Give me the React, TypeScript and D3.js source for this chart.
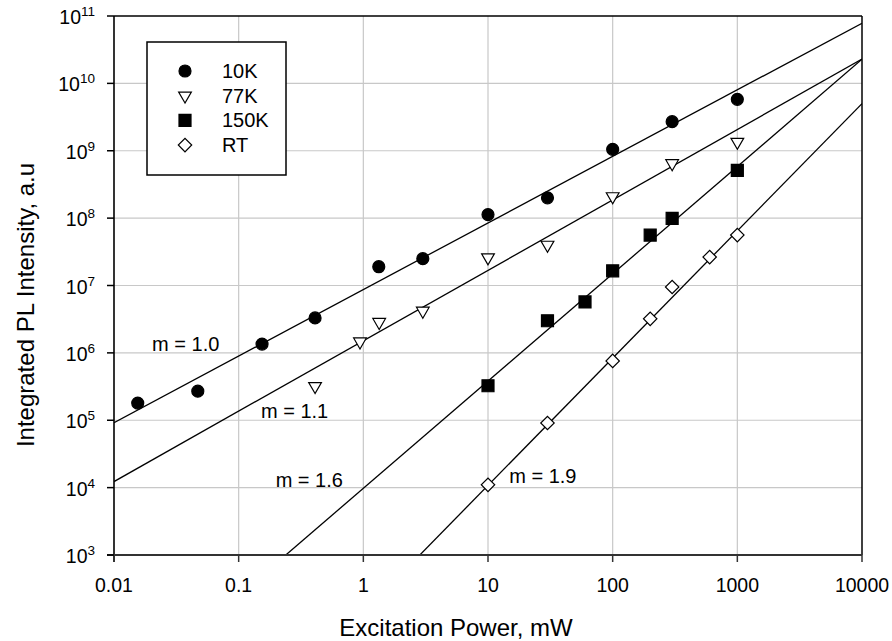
import * as d3 from "d3";

const W = 892;
const H = 641;
const plot = { left: 114, right: 862, top: 16, bottom: 555 };
const font = "'Liberation Sans', Arial, sans-serif";

const seriesNames = ["10K", "77K", "150K", "RT"];
const power10K = [0.0155, 0.047, 0.154, 0.41, 1.33, 3, 10, 30, 100, 300, 1000];
const pl10K = [1.8e5, 2.7e5, 1.35e6, 3.3e6, 1.9e7, 2.5e7, 1.13e8, 2.0e8, 1.05e9, 2.7e9, 5.8e9];
const power77K = [0.41, 0.94, 1.34, 3, 10, 30, 100, 300, 1000];
const pl77K = [3.2e5, 1.47e6, 2.86e6, 4.2e6, 2.6e7, 4.0e7, 2.1e8, 6.5e8, 1.35e9];
const power150K = [10, 30, 60, 100, 200, 300, 1000];
const pl150K = [3.25e5, 3.0e6, 5.7e6, 1.65e7, 5.6e7, 9.9e7, 5.1e8];
const powerRT = [10, 30, 100, 200, 300, 600, 1000];
const plRT = [1.1e4, 9.1e4, 7.6e5, 3.2e6, 9.5e6, 2.64e7, 5.6e7];

// power-law fits: log10(I) = fitLogAt1 + slope * log10(P)
const fitSlopes = [0.988, 1.045, 1.592, 1.889];
const fitLogAt1 = [6.94, 6.18, 3.99, 2.144];
const fitLabels = ["m = 1.0", "m = 1.1", "m = 1.6", "m = 1.9"];
const fitLabelP = [0.0202, 0.151, 0.198, 14.8];
const fitLabelI = [1.07e6, 1.07e5, 1.02e4, 1.16e4];

const xTicks = [0.01, 0.1, 1, 10, 100, 1000, 10000];
const xTickLabels = ["0.01", "0.1", "1", "10", "100", "1000", "10000"];
const yExponents = [3, 4, 5, 6, 7, 8, 9, 10, 11];

const x = d3.scaleLog().domain([0.01, 10000]).range([plot.left, plot.right]);
const y = d3.scaleLog().domain([1e3, 1e11]).range([plot.bottom, plot.top]);

const series = [
  { p: power10K, v: pl10K },
  { p: power77K, v: pl77K },
  { p: power150K, v: pl150K },
  { p: powerRT, v: plRT },
];

const sym = [
  d3.symbol().type(d3.symbolCircle).size(113)(),
  d3.symbol().type(d3.symbolTriangle).size(70)(),
  d3.symbol().type(d3.symbolSquare).size(144)(),
  d3.symbol().type(d3.symbolSquare).size(90)(),
];
const symFill = ["black", "white", "black", "white"];
const symRot = [0, 180, 0, 45];

function Marker({ i, cx, cy }: { i: number; cx: number; cy: number }) {
  return (
    <path
      d={sym[i] as string}
      fill={symFill[i]}
      stroke="black"
      strokeWidth={1.2}
      transform={`translate(${cx},${cy}) rotate(${symRot[i]})`}
    />
  );
}

function fitPath(i: number) {
  return d3
    .line<number>()
    .x((p) => x(p))
    .y((p) => y(10 ** (fitLogAt1[i] + fitSlopes[i] * Math.log10(p))))(x.domain()) as string;
}

function App() {
  return (
    <svg width={W} height={H} style={{ position: "absolute", left: 0, top: 0 }} fontFamily={font}>
      <defs>
        <clipPath id="plotClip">
          <rect x={plot.left} y={plot.top} width={plot.right - plot.left} height={plot.bottom - plot.top} />
        </clipPath>
      </defs>
      <rect width={W} height={H} fill="white" />

      {/* grid */}
      {xTicks.slice(1, -1).map((t) => (
        <line key={"gx" + t} x1={x(t)} x2={x(t)} y1={plot.top} y2={plot.bottom} stroke="#c8c8c8" strokeWidth={1.2} />
      ))}
      {yExponents.slice(1, -1).map((e) => (
        <line key={"gy" + e} x1={plot.left} x2={plot.right} y1={y(10 ** e)} y2={y(10 ** e)} stroke="#c8c8c8" strokeWidth={1.2} />
      ))}

      {/* fit lines */}
      <g clipPath="url(#plotClip)">
        {fitSlopes.map((m, i) => (
          <path key={"fit" + i} d={fitPath(i)} fill="none" stroke="black" strokeWidth={1.3} />
        ))}
      </g>

      {/* data */}
      {series.map((s, i) =>
        s.p.map((p, j) => <Marker key={`m${i}-${j}`} i={i} cx={x(p)} cy={y(s.v[j])} />)
      )}

      {/* fit labels */}
      {fitLabels.map((t, i) => (
        <text key={"fl" + i} x={x(fitLabelP[i])} y={y(fitLabelI[i])} fontSize={20}>
          {t}
        </text>
      ))}

      {/* frame */}
      <line x1={plot.left} x2={plot.right} y1={plot.top} y2={plot.top} stroke="black" strokeWidth={1.5} />
      <line x1={plot.right} x2={plot.right} y1={plot.top} y2={plot.bottom} stroke="black" strokeWidth={1.5} />
      <line x1={plot.left} x2={plot.left} y1={plot.top} y2={plot.bottom + 7} stroke="black" strokeWidth={1.6} />
      <line x1={plot.left - 7} x2={plot.right} y1={plot.bottom} y2={plot.bottom} stroke="#333" strokeWidth={2} />

      {/* x ticks */}
      {xTicks.map((t, i) => (
        <g key={"xt" + t}>
          <line x1={x(t)} x2={x(t)} y1={plot.bottom} y2={plot.bottom + 7} stroke="#333" strokeWidth={1.5} />
          <text x={x(t)} y={plot.bottom + 37} textAnchor="middle" fontSize={19.5}>
            {xTickLabels[i]}
          </text>
        </g>
      ))}

      {/* y ticks */}
      {yExponents.map((e) => (
        <g key={"yt" + e}>
          <line x1={plot.left - 7} x2={plot.left} y1={y(10 ** e)} y2={y(10 ** e)} stroke="black" strokeWidth={1.5} />
          <text x={plot.left - 19} y={y(10 ** e) + 8} textAnchor="end" fontSize={19.5}>
            10
            <tspan dy={-8} fontSize={13.5}>
              {e}
            </tspan>
          </text>
        </g>
      ))}

      {/* axis titles */}
      <text x={456} y={636} textAnchor="middle" fontSize={24}>
        Excitation Power, mW
      </text>
      <text transform={`translate(34,305) rotate(-90)`} textAnchor="middle" fontSize={24}>
        Integrated PL Intensity, a.u
      </text>

      {/* legend */}
      <rect x={147} y={42} width={139} height={133} fill="white" stroke="black" strokeWidth={1.5} />
      {seriesNames.map((n, i) => (
        <g key={"lg" + n}>
          <Marker i={i} cx={185} cy={71 + i * 24.7} />
          <text x={222} y={71 + i * 24.7 + 7} fontSize={20}>
            {n}
          </text>
        </g>
      ))}
    </svg>
  );
}

export default App;
